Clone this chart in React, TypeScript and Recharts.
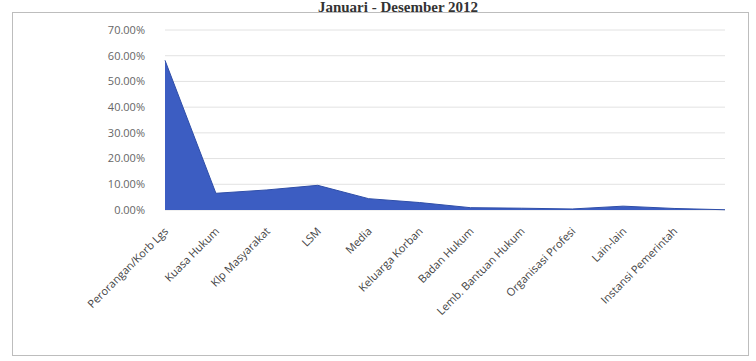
import { AreaChart, Area, XAxis, YAxis, CartesianGrid } from 'recharts'

const categories = [
  'Perorangan/Korb Lgs',
  'Kuasa Hukum',
  'Klp Masyarakat',
  'LSM',
  'Media',
  'Keluarga Korban',
  'Badan Hukum',
  'Lemb. Bantuan Hukum',
  'Organisasi Profesi',
  'Lain-lain',
  'Instansi Pemerintah',
  '',
]

const shares = [58.2, 6.5, 7.8, 9.6, 4.4, 2.9, 0.9, 0.7, 0.4, 1.5, 0.6, 0.1]

const yTicks = [0, 10, 20, 30, 40, 50, 60, 70]

const data = categories.map((name, i) => ({ name, value: shares[i] }))

const CategoryTick = (props: any) => {
  const { x, y, payload } = props
  return (
    <g transform={`translate(${x + 4},${y + 14})`}>
      <text
        transform="rotate(-45)"
        textAnchor="end"
        fontSize={11}
        fontFamily="'Open Sans', sans-serif"
        fill="#444"
      >
        {payload.value}
      </text>
    </g>
  )
}

export default function App() {
  return (
    <div style={{ position: 'fixed', left: 0, top: 0, width: 756, height: 361, overflow: 'hidden', background: '#fff' }}>
      <div style={{ position: 'absolute', left: 0, top: 0 }}>
        <AreaChart width={756} height={361} data={data} margin={{ top: 30, right: 31, bottom: 11, left: 0 }}>
          <CartesianGrid vertical={false} stroke="#e2e2e2" />
          <XAxis
            dataKey="name"
            interval={0}
            tick={<CategoryTick />}
            tickLine={false}
            axisLine={false}
            height={140}
            padding={{ left: 0, right: 0 }}
          />
          <YAxis
            domain={[0, 70]}
            ticks={yTicks}
            width={165}
            tickLine={false}
            axisLine={false}
            tickFormatter={(v: number) => `${v.toFixed(2)}%`}
            tick={{ fontSize: 11, fill: '#666', fontFamily: "'Open Sans', sans-serif" }}
            tickMargin={14}
          />
          <Area
            type="linear"
            dataKey="value"
            stroke="#2f4ea8"
            strokeWidth={1}
            fill="#3c5dc2"
            fillOpacity={1}
            isAnimationActive={false}
          />
        </AreaChart>
      </div>
      <div
        style={{
          position: 'absolute',
          left: 12,
          top: 12,
          width: 735,
          height: 342,
          border: '1px solid #bdbdbd',
          zIndex: 2,
          pointerEvents: 'none',
        }}
      />
      <div
        style={{
          position: 'absolute',
          left: 0,
          width: 756,
          top: 0,
          lineHeight: '15px',
          textAlign: 'center',
          fontFamily: "'Liberation Serif', serif",
          fontWeight: 'bold',
          fontSize: 15,
          color: '#333',
          paddingLeft: 40,
          boxSizing: 'border-box',
          zIndex: 3,
        }}
      >
        Januari - Desember 2012
      </div>
    </div>
  )
}
